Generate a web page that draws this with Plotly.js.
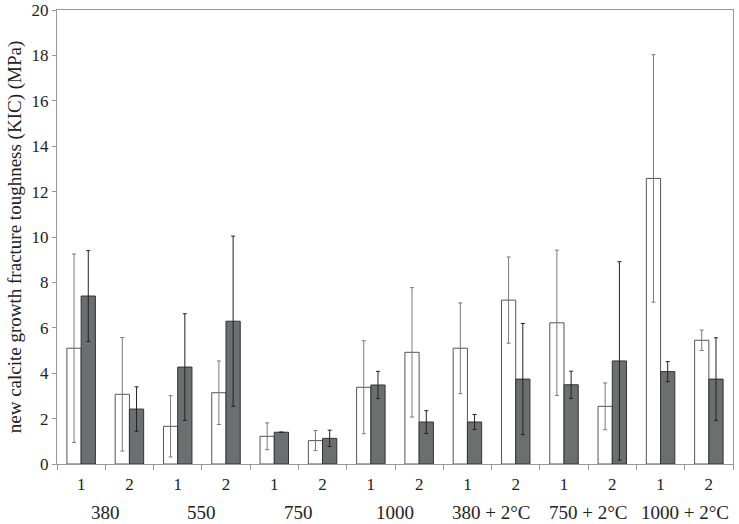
<!DOCTYPE html>
<html>
<head>
<meta charset="utf-8">
<script src="https://cdn.plot.ly/plotly-3.0.1.min.js"></script>
<style>html,body{margin:0;padding:0;background:#fff;}#chart{width:739px;height:524px;}</style>
</head>
<body>
<div id="chart"></div>
<script>
var groups = ['380', '550', '750', '1000', '380 + 2°C', '750 + 2°C', '1000 + 2°C'];
var subs = ['1', '2'];
var whiteValues = [5.1, 3.07, 1.66, 3.14, 1.22, 1.03, 3.38, 4.92, 5.1, 7.22, 6.22, 2.54, 12.58, 5.45];
var whiteErrors = [4.15, 2.5, 1.35, 1.4, 0.59, 0.44, 2.05, 2.85, 2.0, 1.9, 3.2, 1.03, 5.45, 0.45];
var grayValues = [7.4, 2.42, 4.27, 6.29, 1.4, 1.13, 3.48, 1.85, 1.85, 3.74, 3.49, 4.54, 4.07, 3.74];
var grayErrors = [2.0, 0.98, 2.35, 3.75, 0, 0.36, 0.6, 0.5, 0.33, 2.45, 0.6, 4.37, 0.44, 1.82];

var cats = [], catText = [];
groups.forEach(function (g) {
  subs.forEach(function (s) { cats.push(g + '|' + s); catText.push(s); });
});

var serif = "'Liberation Serif', 'Times New Roman', serif";

var traces = [
  {
    type: 'bar', x: cats, y: whiteValues, name: 'white',
    marker: {color: '#ffffff', line: {color: '#555555', width: 1}},
    error_y: {type: 'data', array: whiteErrors, visible: true, color: '#7a7a7a', thickness: 1, width: 2}
  },
  {
    type: 'bar', x: cats, y: grayValues, name: 'gray',
    marker: {color: '#6c6f6f', line: {color: '#333333', width: 1}},
    error_y: {type: 'data', array: grayErrors, visible: true, color: '#222222', thickness: 1, width: 2}
  }
];

var annotations = groups.map(function (g, i) {
  return {
    x: 2 * i + 0.5, xref: 'x', y: 0, yref: 'paper', yshift: -48,
    text: g, showarrow: false, yanchor: 'middle',
    font: {family: serif, size: 19, color: '#222'}
  };
});

var layout = {
  width: 739, height: 524,
  margin: {l: 57, r: 6, t: 10, b: 60},
  paper_bgcolor: '#fff', plot_bgcolor: '#fff',
  showlegend: false,
  barmode: 'group', bargap: 0.41, bargroupgap: 0,
  font: {family: serif, size: 17, color: '#222'},
  xaxis: {
    type: 'category', categoryorder: 'array', categoryarray: cats,
    tickmode: 'array', tickvals: cats, ticktext: catText,
    tickson: 'boundaries', ticks: 'outside', ticklen: 5, tickcolor: '#999',
    ticklabelstandoff: 5,
    showline: true, linecolor: '#999', linewidth: 1, mirror: true,
    showgrid: false, zeroline: false,
    tickfont: {family: serif, size: 17, color: '#222'}
  },
  yaxis: {
    range: [0, 20], dtick: 2, tick0: 0,
    ticks: 'outside', ticklen: 4, tickcolor: '#999',
    showline: true, linecolor: '#999', linewidth: 1, mirror: true,
    showgrid: false, zeroline: false,
    tickfont: {family: serif, size: 17, color: '#222'},
    title: {text: 'new calcite growth fracture toughness (KIC) (MPa)', font: {family: serif, size: 19, color: '#222'}, standoff: 4}
  },
  annotations: annotations
};

Plotly.newPlot('chart', traces, layout, {staticPlot: true, displayModeBar: false});
</script>
</body>
</html>
